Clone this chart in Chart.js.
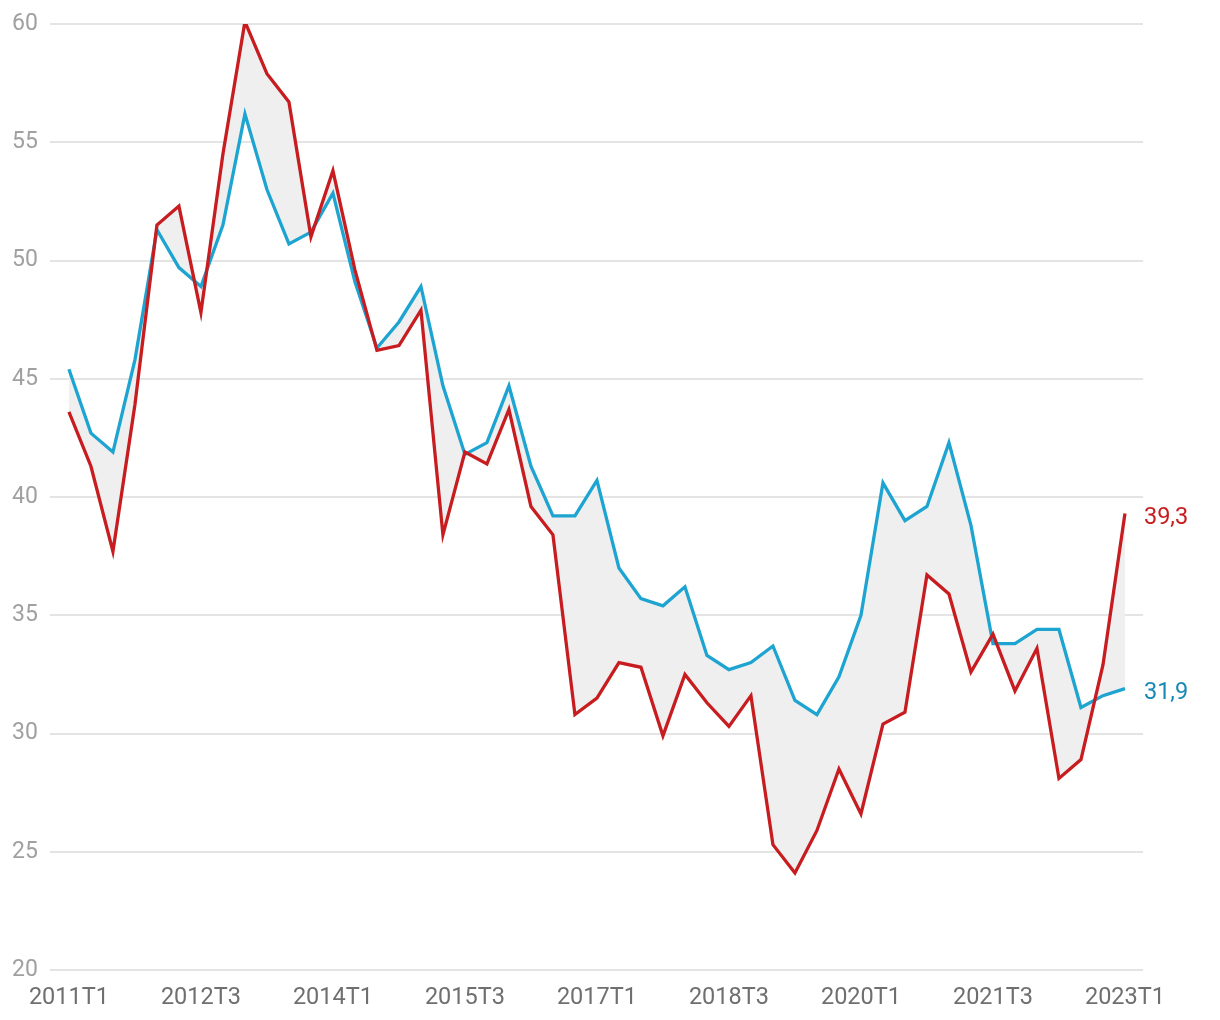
<!DOCTYPE html>
<html>
<head>
<meta charset="utf-8">
<script src="https://cdn.jsdelivr.net/npm/chart.js@4/dist/chart.umd.min.js"></script>
<style>
html,body{margin:0;padding:0;background:#fff;}
#wrap{position:relative;width:1220px;height:1020px;}
</style>
</head>
<body>
<div id="wrap"><canvas id="c" width="1220" height="1020"></canvas></div>
<script>
const quarters = [];
for (let y = 2011; y <= 2023; y++) {
  for (let q = 1; q <= 4; q++) {
    if (y === 2023 && q > 1) break;
    quarters.push(y + 'T' + q);
  }
}
const blueSeries = [45.4,42.7,41.9,45.8,51.3,49.7,48.9,51.5,56.2,53.0,50.7,51.2,52.85,49.1,46.3,47.4,48.9,44.7,41.8,42.3,44.7,41.3,39.2,39.2,40.7,37.0,35.7,35.4,36.2,33.3,32.7,33.0,33.7,31.4,30.8,32.4,35.0,40.6,39.0,39.6,42.3,38.8,33.8,33.8,34.4,34.4,31.1,31.6,31.9];
const redSeries = [43.6,41.3,37.7,43.9,51.5,52.3,47.8,54.5,60.1,57.9,56.7,51.0,53.8,49.6,46.2,46.4,47.9,38.4,41.9,41.4,43.7,39.6,38.4,30.8,31.5,33.0,32.8,29.9,32.5,31.3,30.3,31.6,25.3,24.1,25.9,28.5,26.6,30.4,30.9,36.7,35.9,32.6,34.2,31.8,33.6,28.1,28.9,32.9,39.3];
const yTicks = [20,25,30,35,40,45,50,55,60];
const endLabels = ['39,3','31,9'];

const RED = '#c81d20';
const BLUE = '#1ea4d1';
const BLUE_TXT = '#1789b6';

const toXY = arr => arr.map((v,i)=>({x:i,y:v}));

const endLabelPlugin = {
  id:'endLabels',
  afterDatasetsDraw(chart){
    const ctx = chart.ctx;
    ctx.save();
    ctx.font = '23.5px Roboto';
    ctx.textBaseline = 'middle';
    ctx.textAlign = 'left';
    const cols = [RED, BLUE_TXT];
    chart.data.datasets.forEach((ds, di)=>{
      const meta = chart.getDatasetMeta(di);
      const pt = meta.data[meta.data.length-1];
      ctx.fillStyle = cols[di];
      ctx.fillText(endLabels[di], pt.x + 19, pt.y + 5);
    });
    ctx.restore();
  }
};

new Chart(document.getElementById('c'), {
  type:'line',
  data:{
    datasets:[
      {label:'red', data: toXY(redSeries), borderColor: RED, borderWidth:3.3, pointRadius:0, tension:0, fill:{target:1}, backgroundColor:'#efefef', order:1},
      {label:'blue', data: toXY(blueSeries), borderColor: BLUE, borderWidth:3.3, pointRadius:0, tension:0, fill:false, order:2}
    ]
  },
  options:{
    responsive:false,
    animation:false,
    layout:{padding:{left:12, right:77, top:24, bottom:0}},
    plugins:{legend:{display:false}, tooltip:{enabled:false}, filler:{drawTime:'beforeDatasetsDraw'}},
    scales:{
      x:{
        type:'linear',
        min:-0.86, max:48.82,
        grid:{display:false, drawTicks:false},
        border:{display:false},
        afterBuildTicks(scale){
          scale.ticks = quarters.map((q,i)=>i).filter(i=>i%6===0).map(v=>({value:v}));
        },
        afterFit(scale){ scale.height = 50; scale.paddingLeft = 0; scale.paddingRight = 0; },
        ticks:{
          autoSkip:false, maxRotation:0, padding:14,
          color:'#6f6f6f',
          font:{family:'Roboto', size:23.5},
          callback:(v)=>quarters[v]
        }
      },
      y:{
        min:20, max:60,
        afterBuildTicks(scale){ scale.ticks = yTicks.map(v=>({value:v})); },
        afterFit(scale){ scale.width = 38; scale.paddingTop = 0; scale.paddingBottom = 0; },
        grid:{color:'#e4e4e4', lineWidth:2, drawTicks:false},
        border:{display:false},
        ticks:{
          crossAlign:'far', padding:8,
          color:'#a0a0a0',
          font:{family:'Roboto', size:23}
        }
      }
    }
  },
  plugins:[endLabelPlugin]
});
</script>
</body>
</html>
